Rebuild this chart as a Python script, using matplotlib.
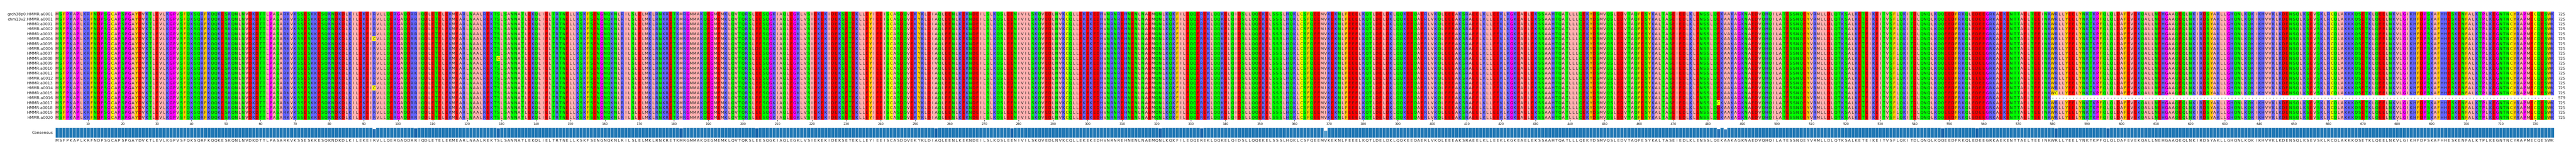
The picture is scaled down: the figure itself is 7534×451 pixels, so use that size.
import numpy as np
import matplotlib
matplotlib.use("Agg")
import matplotlib.pyplot as plt
from matplotlib.colors import to_rgb

# consensus HMMR protein in chunks
SEQ_CHUNKS = [
    "MSFPKAPLKRFNDPSGCAPSPGAYDVKTLEVLKGPVSFQKSQRFKQQKESKQNLNVDKDTTLPASARKVKSS",
    "ESKKESQKNDKDLKILEKEIRVLLQERGAQDRRIQDLETELEKMEARLNAALREKTSLSANNATLEKQLIEL",
    "TRTNELLKSKFSENGNQKNLRILSLELMKLRNKRETKMRGMMAKQEGMEMKLQVTQRSLEESQGKIAQLEGKL",
    "VSIEKEKIDEKSETEKLLEYIEEISCASDQVEKYKLDIAQLEENLKEKNDEILSLKQSLEENIVILSKQVED",
    "LNVKCQLLEKEKEDHVNRNREHNENLNAEMQNLKQKFILEQQEREKLQQKELQIDSLLQQEKELSSSLHQKLC",
    "SFQEEMVKEKNLFEEELKQTLDELDKLQQKEEQAERLVKQLEEEAKSRAEELKLLEEKLKGKEAELEKSSAAH",
    "TQATLLLQEKYDSMVQSLEDVTAQFESYKALTASEIEDLKLENSSLQEKAAKAGKNAEDVQHQILATESSNQE",
    "YVRMLLDLQTKSALKETEIKEITVSFLQKITDLQNQLKQQEEDFRKQLEDEEGRKAEKENTTAELTEEINKW",
    "RLLYEELYNKTKPFQLQLDAFEVEKQALLNEHGAAQEQLNKIRDSYAKLLGHQNLKQKIKHVVKLKDENSQLK",
    "SEVSKLRCQLAKKKQSETKLQEELNKVLGIKHFDPSKAFHHESKENFALKTPLKEGNTNCYRAPMECQESWK",
]
consensus = "".join(SEQ_CHUNKS)

row_names = ["grch38p0:HMMR:a0001", "chm13v2:HMMR:a0001"] + [f"HMMR:a{i:04d}" for i in range(1, 21)]
seq_lengths = [725] * 22
seq_lengths[17] = 579

# (row index, 1-based column, residue) substitutions
variants = [
    (5, 93, "C"), (15, 93, "C"), (9, 129, "C"), (12, 105, "K"), (20, 182, "L"),
    (7, 204, "D"), (10, 256, "V"), (14, 278, "D"), (6, 321, "S"), (11, 333, "K"),
    (3, 369, "I"), (6, 369, "I"), (9, 369, "I"), (12, 369, "I"), (15, 369, "I"), (20, 369, "I"),
    (18, 483, "C"), (19, 483, "D"), (4, 485, "V"), (13, 485, "V"), (18, 485, "V"),
    (8, 548, "N"), (13, 558, "E"), (16, 581, "C"), (21, 596, "I"),
]
gap_row, gap_start = 17, 580

ZAPPO = {}
for aa in "ILVAM": ZAPPO[aa] = "#ffafaf"
for aa in "FWY": ZAPPO[aa] = "#ffc800"
for aa in "KRH": ZAPPO[aa] = "#6464ff"
for aa in "DE": ZAPPO[aa] = "#ff0000"
for aa in "STNQ": ZAPPO[aa] = "#00ff00"
for aa in "PG": ZAPPO[aa] = "#ff00ff"
ZAPPO["C"] = "#ffff00"
ZAPPO["-"] = "#ffffff"

ncol = len(consensus)
nrow = len(row_names)
msa = [list(consensus) for _ in range(nrow)]
for r, c, aa in variants:
    msa[r][c - 1] = aa
for c in range(gap_start - 1, ncol):
    msa[gap_row][c] = "-"

img = np.array([[to_rgb(ZAPPO[a]) for a in row] for row in msa])

# identity of each column vs consensus (gaps ignored)
ident = []
for c in range(ncol):
    col = [msa[r][c] for r in range(nrow) if msa[r][c] != "-"]
    ident.append(sum(a == consensus[c] for a in col) / len(col))
ident = np.array(ident)

W, H = 7535, 452
fig = plt.figure(figsize=(W / 100, H / 100), dpi=100)
x0, x1 = 162 / W, 7470 / W
ax = fig.add_axes([x0, (H - 352) / H, x1 - x0, 317 / H])
ax.imshow(img, aspect="auto", extent=(0, ncol, nrow, 0), interpolation="nearest")
for r in range(nrow):
    for c in range(ncol):
        ax.text(c + 0.5, r + 0.5, msa[r][c], ha="center", va="center", fontsize=8.2, color="#222222")
    ax.text(-0.7, r + 0.5, row_names[r], ha="right", va="center", fontsize=8.2, color="#222222")
    ax.text(ncol + 1.1, r + 0.5, str(seq_lengths[r]), ha="left", va="center", fontsize=8.2, color="#222222")
ax.set_xlim(0, ncol)
ax.set_ylim(nrow, 0)
ticks = np.arange(10, ncol + 1, 10)
ax.set_xticks(ticks - 0.5)
ax.set_xticklabels([str(t) for t in ticks], fontsize=6.5)
ax.tick_params(axis="x", length=3, pad=2)
ax.set_yticks([])
for s in ax.spines.values():
    s.set_visible(False)

bx = fig.add_axes([x0, (H - 404) / H, x1 - x0, 29 / H])
cmap = plt.get_cmap("Blues")
bar_colors = [cmap(0.45 + 0.4 * (v - 0.6) / 0.4) if v < 1 else "#1f77b4" for v in ident]
bx.bar(np.arange(ncol) + 0.5, ident, width=1.0, color=bar_colors, edgecolor="#d5e3f0", linewidth=0.8)
bx.set_xlim(0, ncol)
bx.set_ylim(0, 1)
bx.set_xticks([])
bx.set_yticks([])
for s in bx.spines.values():
    s.set_visible(False)
for c in range(ncol):
    bx.text(c + 0.5, -0.28, consensus[c], ha="center", va="center", fontsize=8.2, color="#222222")
bx.text(-0.7, 0.5, "Consensus", ha="right", va="center", fontsize=8.2, color="#222222")

fig.savefig("out.png", dpi=100)
